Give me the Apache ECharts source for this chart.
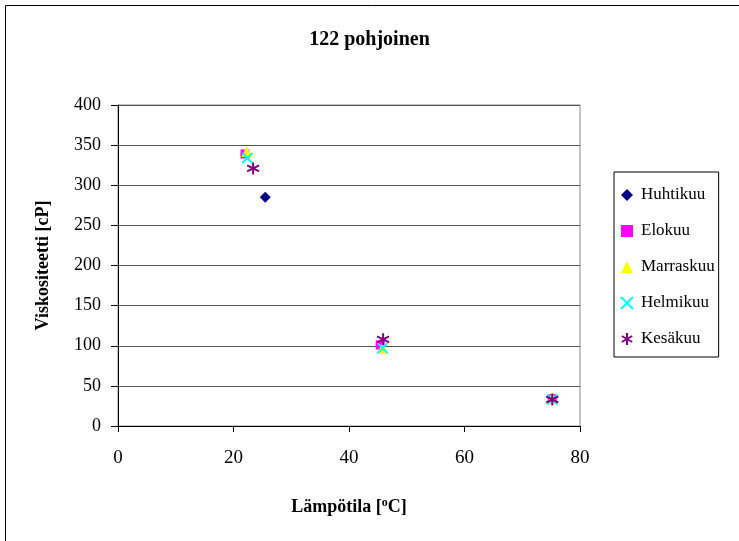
<!DOCTYPE html>
<html>
<head>
<meta charset="utf-8">
<script src="https://cdn.jsdelivr.net/npm/echarts@6/dist/echarts.min.js"></script>
<style>
  html, body { margin: 0; padding: 0; background: #fff; }
  #chart { width: 739px; height: 541px; }
</style>
</head>
<body>
<div id="chart"></div>
<script>
// Viscosity vs. temperature, one series per sampling month
const titleText = '122 pohjoinen';
const seriesNames = ['Huhtikuu', 'Elokuu', 'Marraskuu', 'Helmikuu', 'Kesäkuu'];
const huhtikuu = [[25.5, 285]];
const elokuu = [[22.0, 339], [45.4, 101], [75.2, 34]];
const marraskuu = [[22.3, 342], [45.8, 97], [75.2, 35]];
const helmikuu = [[22.4, 334], [45.8, 97], [75.2, 33]];
const kesakuu = [[23.4, 321], [45.9, 108], [75.2, 33]];

const serif = 'Liberation Serif, Times New Roman, serif';

// Kesäkuu marker: an asterisk drawn as a path
const starPath = 'path://M0,-10L0,10M-8.66,-5L8.66,5M-8.66,5L8.66,-5';
const crossPath = 'path://M-8,-8L8,8M-8,8L8,-8';

const styles = [
  { symbol: 'diamond', size: 11, color: '#000080', stroke: null },
  { symbol: 'rect', size: 9, color: '#ff00ff', stroke: null },
  { symbol: 'triangle', size: 11, color: '#ffff00', stroke: null },
  { symbol: crossPath, size: 10, color: '#00ffff', stroke: '#00ffff' },
  { symbol: starPath, size: 12, color: '#800080', stroke: '#800080' }
];
const datasets = [huhtikuu, elokuu, marraskuu, helmikuu, kesakuu];

const chart = echarts.init(document.getElementById('chart'));
chart.setOption({
  backgroundColor: '#fff',
  animation: false,
  graphic: [{
    type: 'rect', left: 3, top: 3,
    shape: { width: 740, height: 540 },
    style: { fill: 'none', stroke: '#000', lineWidth: 1 }
  }],
  title: {
    text: titleText, left: 'center', top: 25,
    textStyle: { fontFamily: serif, fontSize: 20, fontWeight: 'bold', color: '#000' }
  },
  grid: {
    left: 118, right: 159, top: 105, bottom: 115,
    show: true, borderColor: '#888', borderWidth: 1, backgroundColor: 'transparent'
  },
  legend: {
    orient: 'vertical', left: 614, top: 172,
    width: 106, height: 183,
    padding: [13, 4, 8, 6], itemGap: 16,
    itemWidth: 12, itemHeight: 12,
    borderColor: '#000', borderWidth: 1,
    textStyle: { fontFamily: serif, fontSize: 17, color: '#000', lineHeight: 20, padding: [0, 0, 0, 3] },
    data: seriesNames
  },
  xAxis: {
    type: 'value', min: 0, max: 80, interval: 20,
    axisLine: { show: true, lineStyle: { color: '#000' } },
    axisTick: { show: true, length: 6, inside: false, lineStyle: { color: '#000' } },
    splitLine: { show: false },
    axisLabel: { fontFamily: serif, fontSize: 19, color: '#000', margin: 23 },
    name: '{a|Lämpötila [}{sup|o}{a|C]}',
    nameLocation: 'middle', nameGap: 71,
    nameTextStyle: {
      rich: {
        a: { fontFamily: serif, fontSize: 18, fontWeight: 'bold', color: '#000' },
        sup: { fontFamily: serif, fontSize: 12, fontWeight: 'bold', color: '#000', verticalAlign: 'top', padding: [0, 0, 9, 0] }
      }
    }
  },
  yAxis: {
    type: 'value', min: 0, max: 400, interval: 50,
    axisLine: { show: true, lineStyle: { color: '#000' } },
    axisTick: { show: true, length: 7, lineStyle: { color: '#000' } },
    splitLine: { show: true, lineStyle: { color: '#555', width: 1 } },
    axisLabel: { fontFamily: serif, fontSize: 18, color: '#000', margin: 17 },
    name: 'Viskositeetti [cP]',
    nameLocation: 'middle', nameGap: 66, nameRotate: 90,
    nameTextStyle: { fontFamily: serif, fontSize: 18, fontWeight: 'bold', color: '#000' }
  },
  series: datasets.map((d, i) => ({
    name: seriesNames[i],
    type: 'scatter',
    data: d,
    symbol: styles[i].symbol,
    symbolSize: styles[i].size,
    itemStyle: styles[i].stroke
      ? { color: styles[i].color, borderColor: styles[i].stroke, borderWidth: 2, opacity: 1 }
      : { color: styles[i].color, opacity: 1 },
    z: 2 + i
  }))
});
</script>
</body>
</html>
